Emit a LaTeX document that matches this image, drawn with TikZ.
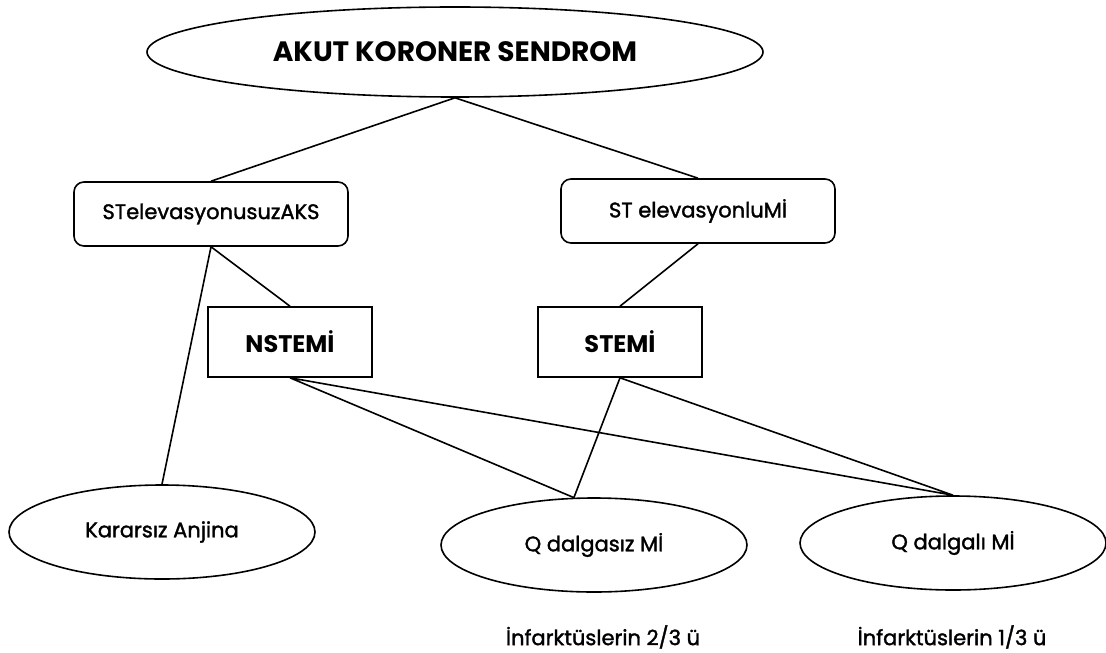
\documentclass[tikz,border=0pt]{standalone}
\usepackage{fontspec}
\setmainfont{Poppins}
\newfontfamily\medfont{Poppins}[UprightFeatures={FakeBold=1.6}]
\usetikzlibrary{shapes}
\usetikzlibrary {positioning}

\begin{document}
\begin{tikzpicture}[x=0.5pt,y=-0.5pt,
            line width=0.8pt,
            oval/.style = {draw,ellipse,inner sep=0pt,align=center,
                minimum width=153pt,minimum height=47pt,font=\medfont\fontsize{10.5}{12}\selectfont},
            rbox/.style = {draw,rounded corners=5pt,inner sep=0pt,
                minimum width=137pt,minimum height=32pt,font=\medfont\fontsize{10.5}{12}\selectfont},
            sbox/.style = {draw,inner sep=0pt,
                minimum width=82pt,minimum height=35pt,font=\bfseries\fontsize{12}{14}\selectfont},
            share/.style = {font=\medfont\fontsize{10.5}{12}\selectfont}]
            \useasboundingbox (0,0) rectangle (1106,652);
            \node[oval,minimum width=308pt,minimum height=45pt,
                font=\bfseries\fontsize{14}{17}\selectfont](aks) at (455,52) {AKUT KORONER SENDROM};
            \node[rbox](stnon) at (211,214) {STelevasyonusuzAKS};
            \node[rbox](stel) at (698,211) {ST elevasyonluMİ};
            \node[sbox](nstemi) at (290,342) {NSTEMİ};
            \node[sbox](stemi) at (620,342) {STEMİ};
            \node[oval](ua) at (162,532) {Kararsız Anjina};
            \node[oval](qnw) at (594,545) {Q dalgasız Mİ};
            \node[oval](qw) at (953,543) {Q dalgalı Mİ};
            \node[share](ratio1) at (603,637) {İnfarktüslerin 2/3 ü};
            \node[share](ratio2) at (952,637) {İnfarktüslerin 1/3 ü};
            \draw (aks.south) -- (stnon.north)
                (aks.south) -- (stel.north)
                (stnon.south) -- (nstemi.north)
                (stnon.south) -- (ua.north)
                (stel.south) -- (stemi.north)
                (nstemi.south) -- (qnw.113)
                (nstemi.south) -- (qw.north)
                (stemi.south) -- (qnw.113)
                (stemi.south) -- (qw.north);
        \end{tikzpicture}
\end{document}
